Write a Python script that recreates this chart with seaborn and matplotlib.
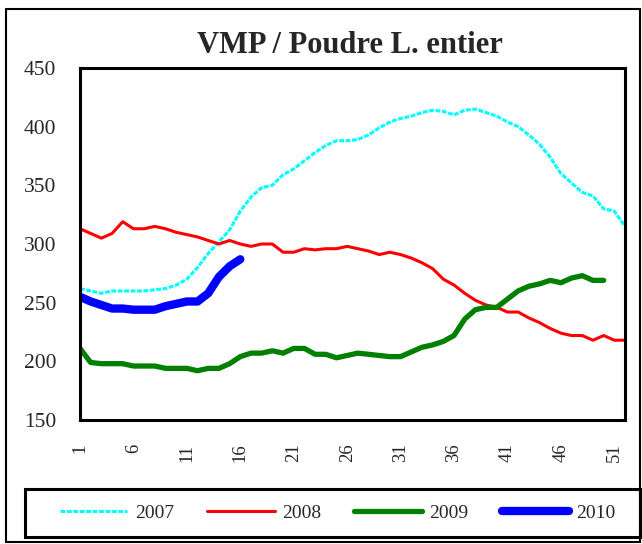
import numpy as np
import pandas as pd
import matplotlib
matplotlib.use('Agg')
import matplotlib.pyplot as plt
import seaborn as sns
from matplotlib.patches import Rectangle

# weekly values
weeks = list(range(1, 53))
v2007 = [262, 260, 258, 260, 260, 260, 260, 261, 262, 265,
         270, 280, 292, 302, 312, 328, 340, 348, 350, 359,
         364, 371, 378, 384, 388, 388, 389, 393, 399, 404,
         407, 409, 412, 414, 413, 410, 414, 415, 412, 409,
         404, 400, 393, 385, 374, 360, 352, 344, 341, 330,
         328, 315]
v2008 = [313, 309, 305, 309, 319, 313, 313, 315, 313, 310,
         308, 306, 303, 300, 303, 300, 298, 300, 300, 293,
         293, 296, 295, 296, 296, 298, 296, 294, 291, 293,
         291, 288, 284, 279, 270, 265, 258, 252, 248, 246,
         242, 242, 237, 233, 228, 224, 222, 222, 218, 222,
         218, 218]
v2009 = [211, 199, 198, 198, 198, 196, 196, 196, 194, 194,
         194, 192, 194, 194, 198, 204, 207, 207, 209, 207,
         211, 211, 206, 206, 203, 205, 207, 206, 205, 204,
         204, 208, 212, 214, 217, 222, 236, 244, 246, 246,
         253, 260, 264, 266, 269, 267, 271, 273, 269, 269]
v2010 = [255, 251, 248, 245, 245, 244, 244, 244, 247, 249,
         251, 251, 258, 272, 281, 287]

years = ['2007', '2008', '2009', '2010']
series = [v2007, v2008, v2009, v2010]
colors = ['#00FFFF', '#FF0000', '#008000', '#0000FF']
widths = [2.2, 2.2, 3.8, 6.0]
styles = [(0, (1.6, 0.5)), '-', '-', '-']

frames = []
for yr, vals in zip(years, series):
    frames.append(pd.DataFrame({'Semaine': weeks[:len(vals)], 'Prix': vals, 'Annee': yr}))
df = pd.concat(frames, ignore_index=True)

sns.set_style('white')
plt.rcParams['font.family'] = ['Liberation Serif', 'DejaVu Serif']

fig = plt.figure(figsize=(6.42, 5.44), dpi=100)
ax = fig.add_axes([80 / 642, 1 - 420 / 544, 545 / 642, 352 / 544])

for yr, c, lw, ls in zip(years, colors, widths, styles):
    sns.lineplot(data=df[df['Annee'] == yr], x='Semaine', y='Prix', ax=ax,
                 color=c, linewidth=lw, linestyle=ls, label=yr,
                 solid_capstyle='round', dash_capstyle='butt')

ax.set_xlim(1, 52)
ax.set_ylim(150, 450)
ax.set_yticks(range(150, 451, 50))
ax.set_xticks(range(1, 53), minor=True)
ax.set_xticks(range(1, 53, 5))
ax.set_xlabel('')
ax.set_ylabel('')
ax.tick_params(axis='y', direction='inout', length=10, width=2.2, labelsize=15.5, pad=12)
ax.tick_params(axis='x', which='both', direction='out', length=4, width=2, labelsize=13.5,
               labelrotation=90, pad=13)
for lab in ax.get_xticklabels():
    lab.set_verticalalignment('top')
for s in ax.spines.values():
    s.set_color('black')
    s.set_linewidth(2.2)

fig.text(350 / 642, 1 - 53 / 544, 'VMP / Poudre L. entier', ha='center', va='baseline',
         fontsize=22, fontweight='bold')

ax.get_legend().remove()
h, l = ax.get_legend_handles_labels()
leg = fig.legend(h, l, loc='center', ncol=4,
                 bbox_to_anchor=(338 / 642, 1 - 513 / 544),
                 fontsize=14, frameon=False, handlelength=3.45,
                 handletextpad=0.4, columnspacing=1.7)

# legend box and chart border
fig.patches.append(Rectangle((25 / 642, 1 - 537 / 544), 615 / 642, 48 / 544,
                             transform=fig.transFigure, fill=False,
                             edgecolor='black', linewidth=2.2))
fig.patches.append(Rectangle((6 / 642, 2 / 544), 634 / 642, 533 / 544,
                             transform=fig.transFigure, fill=False,
                             edgecolor='black', linewidth=1.5))

fig.savefig('out.png', dpi=100)
